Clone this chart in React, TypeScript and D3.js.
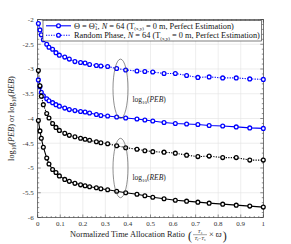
import React, { useEffect, useRef } from 'react'
import * as d3 from 'd3'

// normalized time allocation ratio (x) sampled for every curve
const ratio = [0.003, 0.01, 0.016, 0.025, 0.04, 0.05, 0.066, 0.081, 0.096, 0.12, 0.14, 0.165, 0.19, 0.21, 0.23, 0.26,
  0.28, 0.31, 0.35, 0.39, 0.44, 0.475, 0.51, 0.56, 0.61, 0.66, 0.71, 0.76, 0.82, 0.88, 0.94, 1.0]

// log10(PEB), random phase (dotted blue)
const pebRandom = [-2.08, -2.21, -2.31, -2.41, -2.5, -2.56, -2.6, -2.67, -2.72, -2.76, -2.8, -2.85, -2.87, -2.88, -2.91, -2.93,
  -2.94, -2.95, -2.99, -3.02, -3.04, -3.05, -3.06, -3.09, -3.09, -3.13, -3.17, -3.16, -3.18, -3.18, -3.2, -3.21]
// log10(PEB), Theta = Theta~1 (solid blue)
const pebTheta = [-3.22, -3.36, -3.47, -3.54, -3.6, -3.64, -3.68, -3.72, -3.75, -3.79, -3.82, -3.84, -3.86, -3.87, -3.89, -3.92,
  -3.94, -3.95, -3.97, -3.99, -4.01, -4.03, -4.05, -4.08, -4.1, -4.11, -4.12, -4.14, -4.15, -4.17, -4.19, -4.2]
// log10(REB), random phase (dotted black)
const rebRandom = [-3.03, -3.34, -3.55, -3.72, -3.9, -3.99, -4.1, -4.18, -4.24, -4.3, -4.34, -4.37, -4.4, -4.42, -4.44, -4.47,
  -4.49, -4.51, -4.55, -4.59, -4.62, -4.65, -4.67, -4.68, -4.7, -4.74, -4.77, -4.76, -4.79, -4.79, -4.84, -4.84]
// log10(REB), Theta = Theta~1 (solid black)
const rebTheta = [-4.04, -4.25, -4.4, -4.58, -4.8, -4.92, -5.03, -5.09, -5.16, -5.23, -5.27, -5.31, -5.34, -5.36, -5.38, -5.4,
  -5.42, -5.44, -5.47, -5.5, -5.53, -5.56, -5.59, -5.62, -5.65, -5.67, -5.69, -5.71, -5.73, -5.75, -5.77, -5.79]

const xTicks = [0, 0.1, 0.2, 0.3, 0.4, 0.5, 0.6, 0.7, 0.8, 0.9, 1]
const yTicks = [-2, -2.5, -3, -3.5, -4, -4.5, -5, -5.5, -6]

const FONT = '"Liberation Serif", "DejaVu Serif", serif'
const BLUE = '#0000ff'
const BLACK = '#000000'

export default function App() {
  const ref = useRef<SVGSVGElement>(null)

  useEffect(() => {
    const svg = d3.select(ref.current)
    svg.selectAll('*').remove()

    const left = 37.7, right = 263.3, top = 19.5, bottom = 217.5
    const x = d3.scaleLinear().domain([0, 1]).range([left, right])
    const y = d3.scaleLinear().domain([-6, -2]).range([bottom, top])

    svg.append('rect').attr('width', 291).attr('height', 244).attr('fill', '#fff')

    // grid
    const grid = svg.append('g').attr('stroke', '#e3e3e3').attr('stroke-width', 0.6)
    xTicks.forEach(t => grid.append('line').attr('x1', x(t)).attr('x2', x(t)).attr('y1', top).attr('y2', bottom))
    yTicks.forEach(t => grid.append('line').attr('x1', left).attr('x2', right).attr('y1', y(t)).attr('y2', y(t)))

    // ticks, inside, on all four sides
    const ticks = svg.append('g').attr('stroke', '#262626').attr('stroke-width', 0.5)
    d3.range(0, 1.0001, 0.02).forEach(t => {
      const major = xTicks.some(m => Math.abs(m - t) < 1e-6)
      const len = major ? 3 : 1.5
      ticks.append('line').attr('x1', x(t)).attr('x2', x(t)).attr('y1', bottom).attr('y2', bottom - len)
      ticks.append('line').attr('x1', x(t)).attr('x2', x(t)).attr('y1', top).attr('y2', top + len)
    })
    d3.range(-6, -1.9999, 0.1).forEach(t => {
      const major = yTicks.some(m => Math.abs(m - t) < 1e-6)
      const len = major ? 3 : 1.5
      ticks.append('line').attr('x1', left).attr('x2', left + len).attr('y1', y(t)).attr('y2', y(t))
      ticks.append('line').attr('x1', right).attr('x2', right - len).attr('y1', y(t)).attr('y2', y(t))
    })

    svg.append('rect')
      .attr('x', left).attr('y', top).attr('width', right - left).attr('height', bottom - top)
      .attr('fill', 'none').attr('stroke', '#262626').attr('stroke-width', 0.6)

    // tick labels
    svg.append('g').selectAll('text').data(xTicks).enter().append('text')
      .attr('x', d => x(d)).attr('y', bottom + 8.5)
      .attr('text-anchor', 'middle')
      .style('font-family', FONT).style('font-size', '7px').attr('fill', '#333')
      .text(d => String(d))
    svg.append('g').selectAll('text').data(yTicks).enter().append('text')
      .attr('x', left - 4).attr('y', d => y(d) + 2.4)
      .attr('text-anchor', 'end')
      .style('font-family', FONT).style('font-size', '7px').attr('fill', '#333')
      .text(d => String(d))

    // curves
    const series = [
      { values: pebRandom, color: BLUE, dash: '1.2,1.3' },
      { values: pebTheta, color: BLUE, dash: null },
      { values: rebRandom, color: BLACK, dash: '1.2,1.3' },
      { values: rebTheta, color: BLACK, dash: null },
    ]
    const line = d3.line<[number, number]>().x(d => x(d[0])).y(d => y(d[1]))
    series.forEach(s => {
      const pts: [number, number][] = ratio.map((r, i) => [r, s.values[i]])
      svg.append('path').attr('d', line(pts))
        .attr('fill', 'none').attr('stroke', s.color).attr('stroke-width', 1.1)
        .attr('stroke-dasharray', s.dash)
      svg.append('g').selectAll('circle').data(pts).enter().append('circle')
        .attr('cx', d => x(d[0])).attr('cy', d => y(d[1])).attr('r', 1.9)
        .attr('fill', '#fff').attr('stroke', s.color).attr('stroke-width', 1.3)
    })

    // ellipses and their labels
    const ell = [
      { cx: 0.367, cy: -3.4, label: 'PEB', ly: -3.66 },
      { cx: 0.367, cy: -5.0, label: 'REB', ly: -5.25 },
    ]
    ell.forEach(e => {
      svg.append('ellipse')
        .attr('cx', x(e.cx)).attr('cy', y(e.cy))
        .attr('rx', 7.5).attr('ry', y(-2.6) - y(-2))
        .attr('fill', 'none').attr('stroke', '#444').attr('stroke-width', 0.6)
      const t = svg.append('text').attr('x', x(0.42)).attr('y', y(e.ly))
        .style('font-family', FONT).style('font-size', '7.5px').attr('fill', '#222')
      t.append('tspan').text('log')
      t.append('tspan').attr('dy', 2).style('font-size', '5px').text('10')
      t.append('tspan').attr('dy', -2).text('(')
      t.append('tspan').style('font-style', 'italic').text(e.label)
      t.append('tspan').text(')')
    })

    // legend
    const lg = svg.append('g')
    lg.append('rect').attr('x', 43).attr('y', 20.5).attr('width', 218.5).attr('height', 20.5)
      .attr('fill', '#fff').attr('stroke', '#262626').attr('stroke-width', 0.6)
    const rows = [
      { color: BLUE, dash: null, cy: 25.8, random: false },
      { color: BLUE, dash: '1.2,1.3', cy: 35.3, random: true },
    ]
    rows.forEach(r => {
      lg.append('line').attr('x1', 46).attr('x2', 71).attr('y1', r.cy).attr('y2', r.cy)
        .attr('stroke', r.color).attr('stroke-width', 1.1).attr('stroke-dasharray', r.dash)
      lg.append('circle').attr('cx', 58.5).attr('cy', r.cy).attr('r', 1.9)
        .attr('fill', '#fff').attr('stroke', r.color).attr('stroke-width', 1.3)
      const t = lg.append('text').attr('x', 74).attr('y', r.cy + 2.7)
        .style('font-family', FONT).style('font-size', '8.3px').attr('fill', '#111')
      if (r.random) {
        t.append('tspan').text('Random Phase, ')
      } else {
        t.append('tspan').text('\u0398 = \u0398\u0303')
        t.append('tspan').attr('dy', 1.8).style('font-size', '5.5px').text('1')
        t.append('tspan').attr('dy', -1.8).text(', ')
      }
      t.append('tspan').style('font-style', 'italic').text('N')
      t.append('tspan').text(' = 64 (T')
      t.append('tspan').attr('dy', 1.8).style('font-size', '5px').text('(x,y)')
      t.append('tspan').attr('dy', -1.8).text(' = 0 m, Perfect Estimation)')
    })

    // y axis label
    const yl = svg.append('text')
      .attr('transform', `translate(14,${(top + bottom) / 2}) rotate(-90)`)
      .attr('text-anchor', 'middle')
      .style('font-family', FONT).style('font-size', '8.3px').attr('fill', '#222')
    yl.append('tspan').text('log')
    yl.append('tspan').attr('dy', 2).style('font-size', '5.5px').text('10')
    yl.append('tspan').attr('dy', -2).text('(')
    yl.append('tspan').style('font-style', 'italic').text('PEB')
    yl.append('tspan').text(') or log')
    yl.append('tspan').attr('dy', 2).style('font-size', '5.5px').text('10')
    yl.append('tspan').attr('dy', -2).text('(')
    yl.append('tspan').style('font-style', 'italic').text('REB')
    yl.append('tspan').text(')')

    // x axis label
    const base = 237
    const xl = svg.append('text').attr('x', 70).attr('y', base)
      .style('font-family', FONT).style('font-size', '8.3px').attr('fill', '#222')
      .text('Normalized Time Allocation Ratio')
    const w = (xl.node() as SVGTextElement).getComputedTextLength()
    let cx = 70 + w + 3
    svg.append('text').attr('x', cx).attr('y', base + 2.5)
      .style('font-family', FONT).style('font-size', '12px').attr('fill', '#222').text('(')
    cx += 5
    const num = svg.append('text').attr('x', cx + 7).attr('y', base - 3.8).attr('text-anchor', 'middle')
      .style('font-family', FONT).style('font-size', '5px').style('font-style', 'italic').attr('fill', '#222')
    num.append('tspan').text('T')
    num.append('tspan').attr('dy', 1).style('font-size', '3.8px').text('s')
    svg.append('line').attr('x1', cx).attr('x2', cx + 14).attr('y1', base - 2.3).attr('y2', base - 2.3)
      .attr('stroke', '#222').attr('stroke-width', 0.4)
    const den = svg.append('text').attr('x', cx + 7).attr('y', base + 2.6).attr('text-anchor', 'middle')
      .style('font-family', FONT).style('font-size', '5px').style('font-style', 'italic').attr('fill', '#222')
    den.append('tspan').text('T')
    den.append('tspan').attr('dy', 1).style('font-size', '3.8px').text('t')
    den.append('tspan').attr('dy', -1).style('font-style', 'normal').text('\u2212')
    den.append('tspan').text('T')
    den.append('tspan').attr('dy', 1).style('font-size', '3.8px').text('s')
    cx += 16
    const tail = svg.append('text').attr('x', cx).attr('y', base)
      .style('font-family', FONT).style('font-size', '8.3px').attr('fill', '#222')
    tail.append('tspan').text('\u00d7 ')
    tail.append('tspan').style('font-style', 'italic').text('\u03d6')
    const tw = (tail.node() as SVGTextElement).getComputedTextLength()
    svg.append('text').attr('x', cx + tw + 1).attr('y', base + 2.5)
      .style('font-family', FONT).style('font-size', '12px').attr('fill', '#222').text(')')
  }, [])

  return (
    <svg ref={ref} width={291} height={244} style={{ position: 'absolute', left: 0, top: 0 }} />
  )
}
